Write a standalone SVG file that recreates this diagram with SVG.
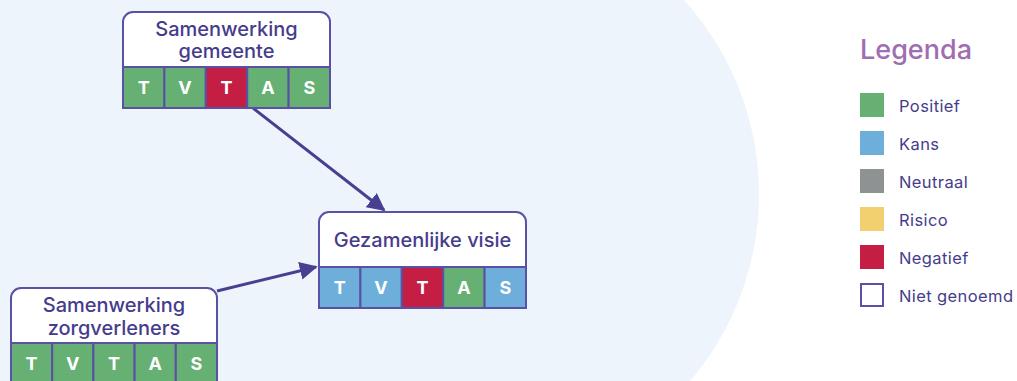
<svg xmlns="http://www.w3.org/2000/svg" width="1017" height="381" viewBox="0 0 1017 381">
<style>
.title{font-family:Inter,"Liberation Sans",sans-serif;font-size:20px;font-weight:500;fill:#463c8c;text-anchor:middle}
.cell{stroke:#5a50a6;stroke-width:2}
.lt{font-family:Inter,"Liberation Sans",sans-serif;font-size:18px;font-weight:bold;fill:#fff;text-anchor:middle}
.box{fill:#fff;stroke:#5a50a6;stroke-width:2}
.leg{font-family:Inter,"Liberation Sans",sans-serif;font-size:16.5px;font-weight:400;letter-spacing:0.4px;fill:#463c8c}
.g{fill:#66b073}.r{fill:#c41e45}.b{fill:#6daedb}
.conn{stroke:#483f91;stroke-width:3;fill:none;marker-end:url(#ah)}
</style>
<defs>
<marker id="ah" viewBox="0 0 10 10" refX="9" refY="5" markerWidth="6" markerHeight="6" markerUnits="strokeWidth" orient="auto">
<path d="M0,0 L10,5 L0,10 z" fill="#483f91"/>
</marker>
</defs>
<rect width="1017" height="381" fill="#fff"/>
<circle cx="471" cy="194" r="288" fill="#eef4fb"/>
<rect x="0" y="0" width="471" height="381" fill="#eef4fb"/>
<g id="connectors">
<line class="conn" x1="253" y1="108" x2="384" y2="210"/>
<line class="conn" x1="217" y1="291" x2="316" y2="267"/>
</g>
<g id="node-gemeente">
<path class="box" d="M123,67 V22 a10,10 0 0 1 10,-10 H320 a10,10 0 0 1 10,10 V67 z"/>
<text class="title" x="226.5" y="36">Samenwerking</text>
<text class="title" x="226.5" y="58">gemeente</text>
<rect class="cell g" x="123" y="67" width="41.4" height="41"/>
<rect class="cell g" x="164.4" y="67" width="41.4" height="41"/>
<rect class="cell r" x="205.8" y="67" width="41.4" height="41"/>
<rect class="cell g" x="247.2" y="67" width="41.4" height="41"/>
<rect class="cell g" x="288.6" y="67" width="41.4" height="41"/>
<text class="lt" x="143.7" y="94">T</text>
<text class="lt" x="185.1" y="94">V</text>
<text class="lt" x="226.5" y="94">T</text>
<text class="lt" x="267.9" y="94">A</text>
<text class="lt" x="309.3" y="94">S</text>
</g>
<g id="node-visie">
<path class="box" d="M319,267 V222 a10,10 0 0 1 10,-10 H516 a10,10 0 0 1 10,10 V267 z"/>
<text class="title" x="422.5" y="247">Gezamenlijke visie</text>
<rect class="cell b" x="319" y="267" width="41.4" height="41"/>
<rect class="cell b" x="360.4" y="267" width="41.4" height="41"/>
<rect class="cell r" x="401.8" y="267" width="41.4" height="41"/>
<rect class="cell g" x="443.2" y="267" width="41.4" height="41"/>
<rect class="cell b" x="484.6" y="267" width="41.4" height="41"/>
<text class="lt" x="339.7" y="294">T</text>
<text class="lt" x="381.1" y="294">V</text>
<text class="lt" x="422.5" y="294">T</text>
<text class="lt" x="463.9" y="294">A</text>
<text class="lt" x="505.3" y="294">S</text>
</g>
<g id="node-zorgverleners">
<path class="box" d="M11,343 V298 a10,10 0 0 1 10,-10 H207 a10,10 0 0 1 10,10 V343 z"/>
<text class="title" x="114" y="312">Samenwerking</text>
<text class="title" x="114" y="335">zorgverleners</text>
<rect class="cell g" x="11" y="343" width="41.2" height="41"/>
<rect class="cell g" x="52.2" y="343" width="41.2" height="41"/>
<rect class="cell g" x="93.4" y="343" width="41.2" height="41"/>
<rect class="cell g" x="134.6" y="343" width="41.2" height="41"/>
<rect class="cell g" x="175.8" y="343" width="41.2" height="41"/>
<text class="lt" x="31.6" y="370">T</text>
<text class="lt" x="72.8" y="370">V</text>
<text class="lt" x="114" y="370">T</text>
<text class="lt" x="155.2" y="370">A</text>
<text class="lt" x="196.4" y="370">S</text>
</g>
<g id="legend">
<text x="860" y="59" font-family="Inter,'Liberation Sans',sans-serif" font-size="27" font-weight="500" fill="#a06db0">Legenda</text>
<rect x="860" y="93" width="24" height="24" fill="#66b073"/>
<text class="leg" x="899" y="112">Positief</text>
<rect x="860" y="131" width="24" height="24" fill="#6daedb"/>
<text class="leg" x="899" y="150">Kans</text>
<rect x="860" y="169" width="24" height="24" fill="#8f9293"/>
<text class="leg" x="899" y="188">Neutraal</text>
<rect x="860" y="207" width="24" height="24" fill="#f3d06f"/>
<text class="leg" x="899" y="226">Risico</text>
<rect x="860" y="245" width="24" height="24" fill="#c41e45"/>
<text class="leg" x="899" y="264">Negatief</text>
<rect x="861" y="284" width="22" height="22" fill="#fff" stroke="#5a50a6" stroke-width="2"/>
<text class="leg" x="899" y="302">Niet genoemd</text>
</g>
</svg>
